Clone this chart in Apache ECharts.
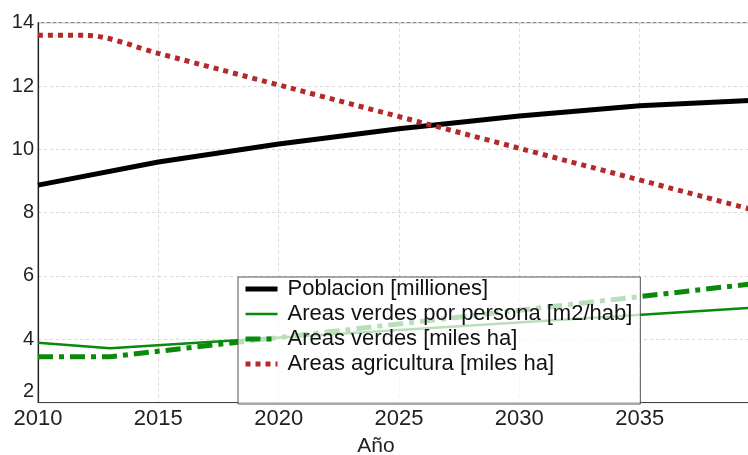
<!DOCTYPE html>
<html><head><meta charset="utf-8">
<script src="https://cdn.jsdelivr.net/npm/echarts@6/dist/echarts.min.js"></script>
<style>html,body{margin:0;padding:0;background:#fff;overflow:hidden}#c{width:760px;height:455px}</style>
</head><body><div id="c"></div>
<script>
// Data
const poblacionYears = [2010, 2015, 2020, 2025, 2030, 2035, 2040];
const poblacion = [8.87, 9.6, 10.17, 10.65, 11.05, 11.38, 11.56];
const verdesPersonaYears = [2010, 2013, 2040];
const verdesPersona = [3.89, 3.72, 5.01];
const verdesYears = [2010, 2013, 2040];
const verdes = [3.45, 3.45, 5.78];
const agriYears = [2010, 2012, 2015, 2040];
const agricultura = [13.6, 13.6, 13.03, 8.03];
const seriesNames = ['Poblacion [milliones]', 'Areas verdes por persona [m2/hab]', 'Areas verdes [miles ha]', 'Areas agricultura [miles ha]'];
const xTicks = [2010, 2015, 2020, 2025, 2030, 2035, 2040];
const yTicks = [2, 4, 6, 8, 10, 12, 14];

const zip = (xs, ys) => xs.map((x, i) => [x, ys[i]]);
const FONT = '"Liberation Sans", Arial, sans-serif';
const GREEN = '#0a8a0a', RED = '#b22a2a';
const styles = [
  {color: '#000', width: 5, type: 'solid', cap: 'butt'},
  {color: GREEN, width: 2.5, type: 'solid', cap: 'butt'},
  {color: GREEN, width: 5, type: [15, 6, 5, 6], cap: 'butt'},
  {color: RED, width: 5, type: [5, 5], cap: 'butt'}
];

const chart = echarts.init(document.getElementById('c'), null, {renderer: 'canvas'});
chart.setOption({
  animation: false,
  backgroundColor: '#fff',
  grid: {left: 38, top: 22.7, right: 0, bottom: 52.4, show: true, borderColor: '#666', borderWidth: 1,
         outerBoundsMode: 'none', containLabel: false},
  xAxis: {
    type: 'value', min: xTicks[0], max: xTicks[xTicks.length - 1], interval: 5,
    name: 'Año', nameLocation: 'middle', nameGap: 33,
    nameTextStyle: {fontFamily: FONT, fontSize: 21, color: '#222', padding: [0, 46, 0, 0]},
    axisLine: {show: true, lineStyle: {color: '#444', width: 1.2}},
    axisTick: {show: false},
    axisLabel: {fontFamily: FONT, fontSize: 22, color: '#222', margin: 5, showMaxLabel: false, formatter: v => String(v)},
    splitLine: {show: true, lineStyle: {color: '#d8d8d8', type: [3, 3], width: 1}}
  },
  yAxis: {
    type: 'value', min: yTicks[0], max: yTicks[yTicks.length - 1], interval: 2,
    axisLine: {show: true, lineStyle: {color: '#222', width: 1.2}},
    axisTick: {show: false},
    axisLabel: {fontFamily: FONT, fontSize: 20, color: '#222', margin: 4,
      formatter: v => v === 2 ? '{lo|2}' : String(v),
      rich: {lo: {fontFamily: FONT, fontSize: 20, color: '#222', padding: [0, 0, 22, 0]}}},
    splitLine: {show: true, lineStyle: {color: '#d8d8d8', type: [3, 3], width: 1}}
  },
  legend: {
    orient: 'vertical', left: 238, top: 277,
    backgroundColor: 'rgba(255,255,255,0.72)', borderColor: '#555', borderWidth: 1,
    padding: [1, 8, 29, 5], itemGap: 3, itemWidth: 32, itemHeight: 14,
    itemStyle: {opacity: 0, borderWidth: 0},
    textStyle: {fontFamily: FONT, fontSize: 22, color: '#111', padding: [0, 0, 0, 5]},
    data: seriesNames.map((n, i) => ({name: n, lineStyle: styles[i]}))
  },
  series: seriesNames.map((n, i) => ({
    name: n, type: 'line', showSymbol: false, symbol: 'none', z: 3,
    data: [zip(poblacionYears, poblacion), zip(verdesPersonaYears, verdesPersona), zip(verdesYears, verdes), zip(agriYears, agricultura)][i],
    smooth: i === 3 ? 0.3 : false,
    lineStyle: styles[i], itemStyle: {color: styles[i].color}
  }))
});
</script></body></html>
